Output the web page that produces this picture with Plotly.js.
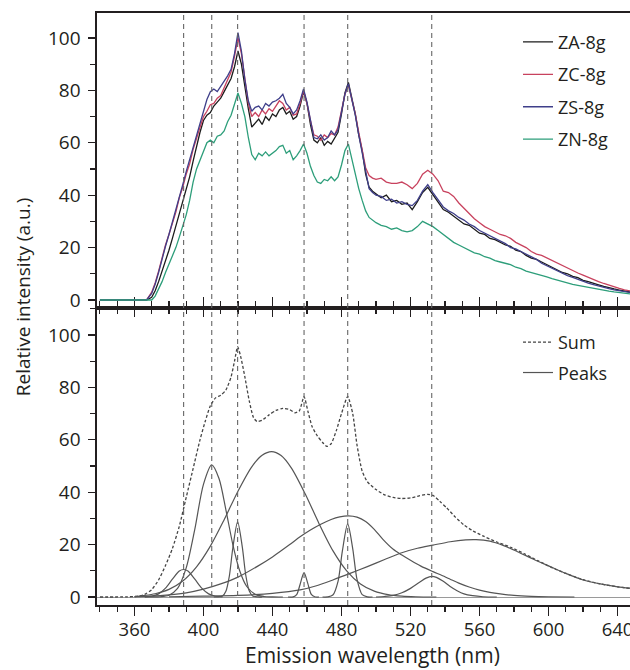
<!DOCTYPE html>
<html>
<head>
<meta charset="utf-8">
<script src="https://cdn.plot.ly/plotly-3.0.1.min.js"></script>
<style>html,body{margin:0;padding:0;background:#fff;overflow:hidden;width:630px;height:670px;}#chart{width:660px;height:670px;}</style>
</head>
<body>
<div id="chart"></div>
<script>
// ---------- Top panel: measured spectra ----------
const wl = [340,350,360,364,367,
370,372,374,376,378,380,382,384,386,388,390,392,394,396,398,400,402,404,406,408,410,412,414,416,418,420,
422,424,426,428,430,432,434,436,438,440,442,444,446,448,450,452,454,456,458,460,462,464,466,468,470,472,
474,476,478,480,482,484,486,488,490,492,494,496,498,500,
503,506,509,512,515,518,521,524,527,530,533,536,539,542,545,548,551,554,557,560,563,566,569,572,575,578,
581,584,587,590,593,596,599,602,605,608,611,614,617,620,623,626,629,632,635,638,641,644,647,650];

const zaY = [0,0,0,0,0,
1.0,3.5,7,11,14.5,19,23.5,28,33,37.5,42,47,53,59,64,68.5,70.5,71.5,74,75.5,77,79.5,82,84.5,89,95,
90,81,73,66,67.5,69,67,70,68.5,71,70,72.5,73.5,71,72,69,70,74,79.5,75,67,61,60,62,59,60.5,
59.5,62,64,71,79,83,77,71,63,57,48,43,41.5,40.5,
39,40,37.5,38,36.5,37,34.5,37.5,41,43,40,37,34.5,33.5,32,30.5,29,28.5,27,25.5,25,23.5,23,22,21,20.5,
19,18.5,17,16,15.5,14.5,13.5,12.5,11.5,10.5,10,9,8.5,7.5,7,6.3,5.8,5.2,4.6,4.2,3.8,3.4,3.0,2.7];

const zcY = [0,0,0,0,0,
3,6.5,11,16.5,21,25,29,33.5,39,43,48,52,57.5,62,66,70,72,74.5,75,77,78,81,84.5,87,93,100,
94,84,75,70,71.5,70,72.5,71,73,72,74,76,75,72.5,73.5,70.5,71,75,80,75,68.5,63,62.5,61,63,62,
63.5,63,66,72,78.5,82,77,71,64,57,50.5,47.5,46.5,46,
46.5,45,44.5,44.5,45,44,42.5,44.5,48,49.5,48,45.5,41.5,41,39.5,37,35,33,31,29.5,28,27,26,25,24.5,23.5,
22,21,20,18.5,17.5,17,16,15,14,13,12,11,10.3,9.5,8.6,7.8,7,6.3,5.6,5,4.4,3.9,3.5,3.1];

const zsY = [0,0,0,0,0,
2.5,6,10.5,16,20.5,25,29.5,34,39.5,44,49,53.5,58.5,63.5,68,72.5,76.5,79.5,80.5,79.5,81.5,83,85.5,88,94,102,
95,84,76,72,73.5,74,72.5,75,74,75.5,76,77,78.5,75,73.5,71,72.5,76,80.5,75.5,68,62,61.5,63,61,62,
64.5,63,65,71.5,78.5,82.5,77,70.5,63,56,48,42.5,41,40,
39.5,38,38.5,37,37.5,36.5,36,38,41.5,44,41,38,35.5,34,33,31.5,30.5,29,28,26.5,25.5,24.5,23.5,22.5,21.5,20,
19.5,18.5,17.5,16.5,15.5,14,13,12,11,10,9.3,8.6,7.8,7,6.4,5.9,5.3,4.8,4.3,3.9,3.5,3.2,2.9,2.6];

const znY = [0,0,0,0,0,
0,1.5,4,7,10.5,13.5,17,20,24,28,32.5,38,45,50,53.5,57,60,61,60,62.5,63,64.5,68,70.5,74.5,79,
75,70,62,55.5,53.5,56,55,56.5,55,56,57,58.5,59,56,57,53.5,55,57,59.5,56,51,47.5,45,44.5,46,45.5,
47,45.5,47,51.5,57,59.5,54,47.5,42.5,38,34,31.5,30.5,29.5,
28.5,28,27,27.5,26.5,26,26.5,28,30,29,28,26.5,25,23.5,22,21,20,19,18,17.5,16.5,16,15,14.5,14,13.5,
12.5,12,11,10.5,10,9.5,8.8,8.2,7.6,7,6.5,6,5.6,5.2,4.8,4.4,4,3.7,3.4,3.1,2.8,2.5,2.3,2.1];

const seriesNames = ['ZA-8g','ZC-8g','ZS-8g','ZN-8g'];

// ---------- Bottom panel: fitted components ----------
const sumX = [340,355,362,366,370,374,378,382,386,390,394,398,401,404,407,410,413,416,418,419.8,421.5,424,426.5,429,431,434,438,442,446,450,453,455.5,458.3,460.5,463,466,469,471.5,474,477,480,483.6,486.5,489,492,495,500,505,510,515,520,525,530,533,537,541,546,551,556,562,570,578,586,594,602,610,620,630,640,648];
const sumY = [0,0.05,0.3,1.0,2.8,6.5,12,18.5,27,38,49,60,67,73,76,77,79,84,90,95.5,92,84,75,68.5,67,67.5,69.5,71.2,72,71.5,70.3,71,76.5,71,65,61.5,59,57.5,58.5,63.5,70,76.5,70,58,48,44,41,39,38,37.6,37.8,38.6,39.2,38.8,36.5,34,30.5,27.5,25.3,23.3,21,19,16.5,13.8,11.2,9.0,6.6,5.0,3.9,3.2];

const p1x = [366,370,374,378,382,386,388.5,391,395,399,403,407,411];
const p1y = [0.06,0.32,1.2,3.4,6.8,9.9,10.5,9.9,6.8,3.4,1.2,0.3,0.06];
const p2x = [366,370,375,380,385,390,395,400,404.8,409,413,417,421,425,430,435,440,446];
const p2y = [0,0.01,0.1,0.7,3.3,11.1,25.9,43,50.4,45.2,33.3,20.1,10,4.1,1.0,0.2,0.02,0];
const p3x = [406,408,411,413,415,417,419.8,422.5,424.5,426.5,428.5,431.5,434];
const p3y = [0,0.05,0.4,2.2,8,18.6,28.7,19.1,8.4,2.4,0.43,0.02,0];
const p4x = [360,365,372,380,388,396,404,412,420,428,434,439.5,445,451,459,467,475,483,491,499,507,515,523,535];
const p4y = [0.15,0.54,1.25,2.9,6.1,11.5,19.4,29.5,40.4,49.7,54.1,55.5,54.0,49.2,39.3,28.0,17.7,10.0,5.0,2.25,0.9,0.32,0.1,0];
const p5x = [449,452,454,456,458.3,460.5,462.5,464.5,467];
const p5y = [0,0.06,0.9,4.8,9.3,5.1,1.0,0.08,0];
const p6x = [469,472,475,478,480.5,483.6,486.5,489,492,495,498];
const p6y = [0,0.04,0.75,6.0,17.5,27.9,18.5,6.7,0.88,0.04,0];
const p7x = [360,370,380,390,400,410,420,431,440,450,456,462,468,474,479,484,489,494,499,504,510,515,520,526,533,538,543,548,554,560,566,572,580,590,600,615];
const p7y = [0.1,0.3,0.8,1.6,3.0,5.0,7.6,11.6,15.3,20.0,23.0,25.6,27.8,29.6,30.6,31.0,30.5,28.8,25.8,22.0,18.2,16.0,14.0,11.8,9.7,8.3,6.8,5.3,3.8,2.6,1.8,1.2,0.6,0.25,0.1,0];
const p8x = [500,505,510,515,520,525,529,532.3,535,539,543,547,551,556,562,570];
const p8y = [0,0.2,0.6,1.6,3.3,5.5,7.2,7.9,7.5,6.0,4.0,2.4,1.2,0.5,0.1,0];
const p9x = [380,400,420,440,456,465,475,485,495,505,514,524,533,543,552,558,566,574,582,591,601,610,620,630,640,650];
const p9y = [0.1,0.3,0.6,1.4,2.7,4.2,6.5,9.0,11.6,14.3,16.7,18.6,19.8,21.1,21.8,21.9,21.3,19.6,17.3,14.5,11.6,9.0,6.5,5.0,3.9,3.2];

// vertical reference lines (nm)
const refLines = [388.5,404.8,419.8,458.3,483.6,532.3];

// x-axis tick labels
const xTicks = [360,400,440,480,520,560,600,640];

// ---------- styling ----------
const colors = ['#1b1b1b','#c8425e','#3f3f8a','#2d9e7a'];
const ink = '#231f20';
const peakColor = '#555555';

const traces = [];
const spectra = [zaY, zcY, zsY, znY];
spectra.forEach((ys, i) => {
  traces.push({x: wl, y: ys, type: 'scatter', mode: 'lines', name: seriesNames[i],
    xaxis: 'x2', yaxis: 'y2', legend: 'legend', legendgroup: 'g' + i,
    line: {color: colors[i], width: 1.3}});
});
traces.push({x: sumX, y: sumY, type: 'scatter', mode: 'lines', name: 'Sum',
  xaxis: 'x', yaxis: 'y', legend: 'legend2', legendgroup: 'sum',
  line: {color: '#444', width: 1.3, dash: '3px,2px', shape: 'spline', smoothing: 0.6}});
const peaks = [[p1x,p1y],[p2x,p2y],[p3x,p3y],[p4x,p4y],[p5x,p5y],[p6x,p6y],[p7x,p7y],[p8x,p8y],[p9x,p9y]];
peaks.forEach((p, i) => {
  traces.push({x: p[0], y: p[1], type: 'scatter', mode: 'lines', name: 'Peaks',
    xaxis: 'x', yaxis: 'y', legend: 'legend2', legendgroup: 'peaks', showlegend: i === 0,
    line: {color: peakColor, width: 1.2, shape: 'spline', smoothing: 0.8}});
});

// figure is 660 px wide; the page window (630 px) crops the right edge as in the reference
const figW = 660, plotL = 97, plotW = figW - plotL;
const split = 0.5017;
const axisCommon = {showgrid: false, showline: true, linecolor: ink, linewidth: 1.6,
  tickcolor: ink, tickwidth: 1.3, tickfont: {size: 19, color: ink}};
const px2paperX = p => (p - plotL) / plotW;

const layout = {
  width: figW, height: 670,
  margin: {l: plotL, r: 0, t: 13, b: 65},
  paper_bgcolor: '#ffffff', plot_bgcolor: '#ffffff',
  font: {family: 'Open Sans, Noto Sans, sans-serif', color: ink},
  showlegend: true,
  xaxis: Object.assign({}, axisCommon, {domain: [0, 1], anchor: 'y', range: [338.3, 664.6],
    tickmode: 'array', tickvals: xTicks, ticktext: xTicks.map(String),
    ticks: 'outside', ticklen: 9, mirror: 'ticks', zeroline: false, ticklabelstandoff: -2,
    tickfont: {size: 18.5, color: ink},
    minor: {dtick: 10, tick0: 0, ticks: 'outside', ticklen: 5, tickwidth: 1.1, tickcolor: ink}}),
  xaxis2: Object.assign({}, axisCommon, {domain: [0, 1], anchor: 'y2', matches: 'x',
    showticklabels: false, tickmode: 'array', tickvals: xTicks,
    ticks: 'outside', ticklen: 7, mirror: true, zeroline: false,
    minor: {dtick: 10, tick0: 0, ticks: 'outside', ticklen: 4, tickwidth: 1.1, tickcolor: ink}}),
  yaxis: Object.assign({}, axisCommon, {domain: [0, split], anchor: 'x', range: [-3.05, 110.3],
    tickmode: 'linear', tick0: 0, dtick: 20, ticks: 'outside', ticklen: 7, ticklabelstandoff: 4,
    zeroline: true, zerolinecolor: '#9a9a9a', zerolinewidth: 1,
    minor: {dtick: 10, tick0: 0, ticks: 'outside', ticklen: 5, tickwidth: 1.1, tickcolor: ink}}),
  yaxis2: Object.assign({}, axisCommon, {domain: [split, 1], anchor: 'x2', range: [-3.05, 109.5],
    tickmode: 'linear', tick0: 0, dtick: 20, ticks: 'outside', ticklen: 7, ticklabelstandoff: 4,
    zeroline: false,
    minor: {dtick: 10, tick0: 0, ticks: 'outside', ticklen: 5, tickwidth: 1.1, tickcolor: ink}}),
  legend: {x: px2paperX(518), y: 0.9818, xanchor: 'left', yanchor: 'top', bgcolor: 'rgba(0,0,0,0)',
    font: {size: 18, color: ink}, traceorder: 'grouped', tracegroupgap: 6, itemwidth: 30},
  legend2: {x: px2paperX(518), y: 0.4748, xanchor: 'left', yanchor: 'top', bgcolor: 'rgba(0,0,0,0)',
    font: {size: 18, color: ink}, traceorder: 'grouped', tracegroupgap: 4, itemwidth: 30},
  shapes: refLines.map(v => ({type: 'line', xref: 'x', yref: 'paper', x0: v, x1: v, y0: 0, y1: 1,
    line: {color: '#666', width: 1.1, dash: '5px,4px'}})),
  annotations: [
    {text: 'Relative intensity (a.u.)', xref: 'paper', yref: 'paper', x: px2paperX(23), y: 0.52,
     xanchor: 'center', yanchor: 'middle', textangle: -90, showarrow: false,
     font: {size: 19, color: ink}},
    {text: 'Emission wavelength (nm)', xref: 'paper', yref: 'paper', x: px2paperX(372), y: -0.1098,
     xanchor: 'center', yanchor: 'bottom', showarrow: false, borderpad: 0,
     font: {size: 21, color: ink}}
  ]
};

Plotly.newPlot('chart', traces, layout, {displayModeBar: false, staticPlot: true});
</script>
</body>
</html>
